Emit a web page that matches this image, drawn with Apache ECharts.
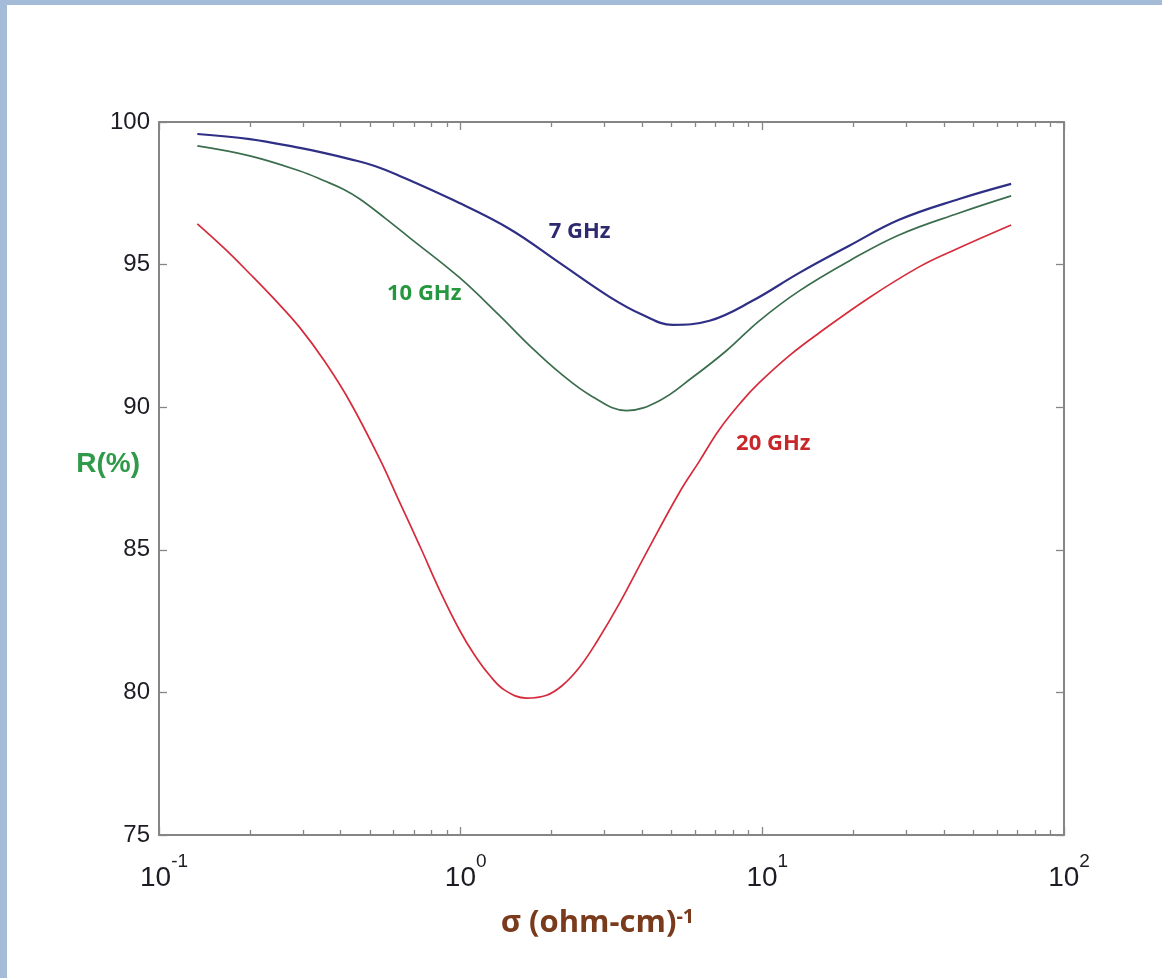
<!DOCTYPE html>
<html>
<head>
<meta charset="utf-8">
<script src="https://cdn.jsdelivr.net/npm/echarts@6/dist/echarts.min.js"></script>
<style>
html,body{margin:0;padding:0;background:#fff;}
#chart{width:1162px;height:978px;}
</style>
</head>
<body>
<div id="chart"></div>
<script>
// ---- data (sigma in (ohm-cm)^-1, reflectance R in %) ----
const seriesNames = ['7 GHz', '10 GHz', '20 GHz'];
const r7GHz = [
  [0.134, 99.58], [0.200, 99.40], [0.293, 99.09], [0.3545, 98.91], [0.429, 98.70],
  [0.519, 98.46], [0.628, 98.11], [0.941, 97.27], [1.453, 96.25], [2.128, 95.06],
  [3.114, 93.87], [4.005, 93.24], [5.04, 92.89], [6.68, 93.03], [9.27, 93.73],
  [13.26, 94.71], [19.41, 95.66], [28.4, 96.57], [44.9, 97.30], [66.8, 97.83]
];
const r10GHz = [
  [0.134, 99.16], [0.200, 98.81], [0.293, 98.28], [0.3545, 97.93], [0.407, 97.65],
  [0.463, 97.30], [0.560, 96.64], [0.678, 95.94], [0.992, 94.54], [1.346, 93.21],
  [1.692, 92.16], [2.128, 91.21], [2.735, 90.37], [3.546, 89.88], [4.56, 90.23],
  [5.86, 91.04], [7.60, 91.98], [9.77, 93.03], [13.26, 94.08], [19.41, 95.13],
  [28.4, 96.04], [44.9, 96.81], [66.8, 97.41]
];
const r20GHz = [
  [0.134, 96.43], [0.1654, 95.55], [0.200, 94.68], [0.2421, 93.77], [0.293, 92.79],
  [0.3545, 91.60], [0.429, 90.20], [0.540, 88.17], [0.628, 86.66], [0.731, 85.15],
  [0.852, 83.58], [0.992, 82.18], [1.113, 81.30], [1.247, 80.60], [1.399, 80.08],
  [1.654, 79.80], [1.927, 79.90], [2.177, 80.25], [2.477, 80.88], [2.821, 81.76],
  [3.36, 83.12], [4.066, 84.77], [5.31, 87.01], [6.18, 88.10], [7.205, 89.22],
  [8.59, 90.23], [9.77, 90.86], [12.29, 91.81], [15.45, 92.61], [22.6, 93.84],
  [33.1, 94.92], [42.6, 95.48], [66.8, 96.39]
];
// curve label anchor points (data coords)
const labelPoints = [[2.48, 96.14], [0.757, 93.97], [10.87, 88.71]];
const minorXTicks = [0.2,0.3,0.4,0.5,0.6,0.7,0.8,0.9, 2,3,4,5,6,7,8,9, 20,30,40,50,60,70,80,90];
const majorXTicks = [0.1, 1, 10, 100];
const yMin = 75, yMax = 100, yStep = 5;
const xAxisName = 'σ (ohm-cm)';
const xAxisNameExp = '-1';
const yAxisName = 'R(%)';

// ---- styles ----
const lineColors = ['#2e2f85', '#3b6d4e', '#d62b3b'];
const labelColors = ['#2d2a6e', '#25973e', '#c9282b'];
const lineWidths = [2.2, 1.7, 1.7];
const frame = '#858585';

const chart = echarts.init(document.getElementById('chart'), null, {renderer: 'canvas'});

function xAxisDef(pos, minor, showLabel) {
  return {
    type: 'log', logBase: 10, min: 0.1, max: 100, position: pos,
    axisLine: {show: !minor, onZero: false, lineStyle: {color: frame, width: 2}},
    axisTick: {show: true, inside: true, length: minor ? 5 : 8,
      customValues: minor ? minorXTicks : majorXTicks,
      lineStyle: {color: frame, width: 1.3}},
    splitLine: {show: false},
    minorTick: {show: false},
    axisLabel: showLabel ? {
      show: true, margin: 17, padding: [0, 0, 0, 10],
      customValues: majorXTicks,
      formatter: function (v) {
        const e = Math.round(Math.log10(v));
        return '{b|10}{s|' + e + '}';
      },
      rich: {
        b: {fontSize: 28, fontFamily: 'Liberation Sans', color: '#1c1c24', lineHeight: 40, verticalAlign: 'bottom'},
        s: {fontSize: 19, fontFamily: 'Liberation Sans', color: '#1c1c24', lineHeight: 8, verticalAlign: 'top'}
      }
    } : {show: false},
    name: showLabel ? '{m|' + xAxisName + '}{s|' + xAxisNameExp + '}' : '',
    nameLocation: 'middle',
    nameGap: 72,
    nameMoveOverlap: false,
    nameTextStyle: {
      padding: [0, 28, 0, 0],
      rich: {
        m: {fontSize: 31, fontWeight: 'bold', fontFamily: 'Open Sans', color: '#7a3a1c', lineHeight: 32, verticalAlign: 'bottom'},
        s: {fontSize: 20, fontWeight: 'bold', fontFamily: 'Open Sans', color: '#7a3a1c', lineHeight: 8, verticalAlign: 'top'}
      }
    }
  };
}
function yAxisDef(pos, showLabel) {
  return {
    type: 'value', min: yMin, max: yMax, interval: yStep, position: pos,
    axisLine: {show: true, onZero: false, lineStyle: {color: frame, width: 2}},
    axisTick: {show: true, inside: true, length: 8, lineStyle: {color: frame, width: 1.3}},
    splitLine: {show: false},
    axisLabel: {show: showLabel, fontSize: 24, fontFamily: 'Liberation Sans', color: '#1c1c24', margin: 9},
    name: showLabel ? yAxisName : '',
    nameLocation: 'middle',
    nameRotate: 0,
    nameGap: 19,
    nameMoveOverlap: false,
    nameTextStyle: {
      align: 'right', verticalAlign: 'bottom', lineHeight: 28,
      fontSize: 28, fontWeight: 'bold', fontFamily: 'Liberation Sans', color: '#2f9a4a'
    }
  };
}

const datasets = [r7GHz, r10GHz, r20GHz];
const series = datasets.map(function (d, i) {
  return {
    name: seriesNames[i], type: 'line', data: d, xAxisIndex: 0, yAxisIndex: 0,
    showSymbol: false, smooth: 0.4,
    lineStyle: {color: lineColors[i], width: lineWidths[i]},
    itemStyle: {color: lineColors[i]},
    z: 3 - i,
    markPoint: {
      symbol: 'circle', symbolSize: 2, silent: true,
      itemStyle: {color: 'rgba(0,0,0,0)'},
      data: [{coord: labelPoints[i], value: 0}],
      label: {show: true, position: 'inside', formatter: seriesNames[i],
        fontSize: 22, fontWeight: 'bold', fontFamily: 'Open Sans', color: labelColors[i]}
    }
  };
});

chart.setOption({
  backgroundColor: '#ffffff',
  animation: false,
  grid: {left: 159, right: 98, top: 122, bottom: 143, containLabel: false},
  xAxis: [xAxisDef('bottom', false, true), xAxisDef('bottom', true, false),
          xAxisDef('top', false, false), xAxisDef('top', true, false)],
  yAxis: [yAxisDef('left', true), yAxisDef('right', false)],
  series: series,
  graphic: [
    {type: 'rect', left: 0, top: 0, shape: {width: 7, height: 978}, style: {fill: '#a5bcd8'}, silent: true},
    {type: 'rect', left: 0, top: 0, shape: {width: 1162, height: 5}, style: {fill: '#a5bcd8'}, silent: true}
  ]
});
</script>
</body>
</html>
